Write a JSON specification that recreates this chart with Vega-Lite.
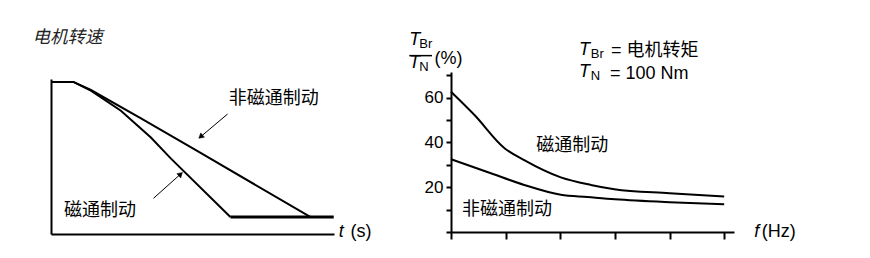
{
  "$schema": "https://vega.github.io/schema/vega-lite/v6.json",
  "padding": {"left": 32, "top": 29, "right": 0, "bottom": 0},
  "bounds": "flush",
  "spacing": 117,
  "config": {
    "view": {"stroke": null},
    "font": "Liberation Sans",
    "axis": {"grid": false, "domainColor": "black", "domainWidth": 2, "tickColor": "black", "tickWidth": 2, "labelColor": "black"}
  },
  "datasets": {
    "speed": [
      {"series": "flux", "t": 0, "v": 98.1},
      {"series": "flux", "t": 0.79, "v": 98.1},
      {"series": "flux", "t": 1.41, "v": 92.5},
      {"series": "flux", "t": 2.47, "v": 79.5},
      {"series": "flux", "t": 3.53, "v": 62.2},
      {"series": "flux", "t": 4.24, "v": 48.6},
      {"series": "flux", "t": 6.34, "v": 11.0},
      {"series": "nonflux", "t": 0, "v": 98.1},
      {"series": "nonflux", "t": 0.79, "v": 98.1},
      {"series": "nonflux", "t": 1.41, "v": 92.9},
      {"series": "nonflux", "t": 3.18, "v": 74.6},
      {"series": "nonflux", "t": 5.18, "v": 53.5},
      {"series": "nonflux", "t": 9.16, "v": 11.0},
      {"series": "floor", "t": 6.34, "v": 11.0},
      {"series": "floor", "t": 9.99, "v": 11.0}
    ],
    "arrows": [
      {"id": "a1", "t": 6.24, "v": 77.4, "t2": 5.26, "v2": 62.3},
      {"id": "a2", "t": 3.62, "v": 23.0, "t2": 4.60, "v2": 39.0}
    ],
    "heads": [
      {"id": "a1", "t": 5.29, "v": 62.8},
      {"id": "a2", "t": 4.58, "v": 38.6}
    ],
    "leftText": [
      {"role": "cnItalic", "label": "电机转速", "t": -0.65, "v": 126.3},
      {"role": "cn", "label": "非磁通制动", "t": 6.28, "v": 87.1},
      {"role": "cn", "label": "磁通制动", "t": 0.46, "v": 14.8},
      {"role": "italic", "label": "t", "t": 10.17, "v": 1.5},
      {"role": "latin", "label": "(s)", "t": 10.58, "v": 1.5}
    ],
    "torque": [
      {"series": "flux", "f": 0, "v": 62.6},
      {"series": "flux", "f": 0.43, "v": 52.2},
      {"series": "flux", "f": 0.98, "v": 37.4},
      {"series": "flux", "f": 1.34, "v": 32.1},
      {"series": "flux", "f": 2.01, "v": 24.4},
      {"series": "flux", "f": 2.56, "v": 21.0},
      {"series": "flux", "f": 2.99, "v": 19.1},
      {"series": "flux", "f": 4.0, "v": 17.3},
      {"series": "flux", "f": 5.0, "v": 15.8},
      {"series": "nonflux", "f": 0, "v": 32.5},
      {"series": "nonflux", "f": 0.73, "v": 26.2},
      {"series": "nonflux", "f": 1.34, "v": 21.0},
      {"series": "nonflux", "f": 2.01, "v": 16.6},
      {"series": "nonflux", "f": 2.5, "v": 15.6},
      {"series": "nonflux", "f": 3.0, "v": 14.6},
      {"series": "nonflux", "f": 4.0, "v": 13.3},
      {"series": "nonflux", "f": 5.0, "v": 12.4}
    ],
    "rightText": [
      {"role": "cn", "label": "磁通制动", "f": 1.56, "v": 38.2},
      {"role": "cn", "label": "非磁通制动", "f": 0.20, "v": 9.8},
      {"role": "cn", "label": "= 电机转矩", "f": 2.93, "v": 80.8},
      {"role": "latin", "label": "= 100 Nm", "f": 2.91, "v": 70.5},
      {"role": "latin", "label": "(%)", "f": -0.30, "v": 77.2},
      {"role": "latin", "label": "(Hz)", "f": 5.69, "v": 0.13},
      {"role": "italic", "label": "T", "f": -0.764, "v": 85.7},
      {"role": "italic", "label": "T", "f": -0.769, "v": 75.4},
      {"role": "italic", "label": "T", "f": 2.344, "v": 81.3},
      {"role": "italic", "label": "T", "f": 2.344, "v": 71.4},
      {"role": "italic", "label": "f", "f": 5.55, "v": 0.13},
      {"role": "sub", "label": "Br", "f": -0.58, "v": 83.9},
      {"role": "sub", "label": "N", "f": -0.58, "v": 73.7},
      {"role": "sub", "label": "Br", "f": 2.56, "v": 79.5},
      {"role": "sub", "label": "N", "f": 2.56, "v": 69.6}
    ],
    "bar": [
      {"f": -0.764, "f2": -0.348, "v": 78.7}
    ]
  },
  "hconcat": [
    {
      "width": 283,
      "height": 162,
      "encoding": {
        "x": {"field": "t", "type": "quantitative", "scale": {"domain": [0, 10], "nice": false}, "axis": {"ticks": false, "labels": false, "title": null}},
        "y": {"field": "v", "type": "quantitative", "scale": {"domain": [0, 100], "range": [162, 7], "nice": false}, "axis": {"ticks": false, "labels": false, "title": null}}
      },
      "layer": [
        {
          "data": {"name": "speed"},
          "transform": [{"filter": "datum.series != 'floor'"}],
          "mark": {"type": "line", "color": "black", "strokeWidth": 2},
          "encoding": {"detail": {"field": "series"}}
        },
        {
          "data": {"name": "speed"},
          "transform": [{"filter": "datum.series == 'floor'"}],
          "mark": {"type": "line", "color": "black", "strokeWidth": 3},
          "encoding": {}
        },
        {
          "data": {"name": "arrows"},
          "mark": {"type": "rule", "color": "black", "strokeWidth": 1},
          "encoding": {"x2": {"field": "t2"}, "y2": {"field": "v2"}}
        },
        {
          "data": {"name": "heads"},
          "transform": [{"filter": "datum.id == 'a1'"}],
          "mark": {"type": "point", "shape": "triangle-up", "filled": true, "fill": "black", "stroke": "black", "strokeWidth": 0.5, "size": 32, "angle": 230, "opacity": 1},
          "encoding": {}
        },
        {
          "data": {"name": "heads"},
          "transform": [{"filter": "datum.id == 'a2'"}],
          "mark": {"type": "point", "shape": "triangle-up", "filled": true, "fill": "black", "stroke": "black", "strokeWidth": 0.5, "size": 32, "angle": 48, "opacity": 1},
          "encoding": {}
        },
        {
          "data": {"name": "leftText"},
          "transform": [{"filter": "datum.role == 'cnItalic'"}],
          "mark": {"type": "text", "align": "left", "baseline": "middle", "font": "Liberation Sans, Noto Sans CJK SC", "fontStyle": "italic", "fontSize": 17.5, "color": "#222"},
          "encoding": {"text": {"field": "label"}}
        },
        {
          "data": {"name": "leftText"},
          "transform": [{"filter": "datum.role == 'cn'"}],
          "mark": {"type": "text", "align": "left", "baseline": "middle", "font": "Liberation Sans, Noto Sans CJK SC", "fontSize": 18, "color": "black"},
          "encoding": {"text": {"field": "label"}}
        },
        {
          "data": {"name": "leftText"},
          "transform": [{"filter": "datum.role == 'italic'"}],
          "mark": {"type": "text", "align": "left", "baseline": "middle", "font": "Liberation Sans", "fontStyle": "italic", "fontSize": 18, "color": "black"},
          "encoding": {"text": {"field": "label"}}
        },
        {
          "data": {"name": "leftText"},
          "transform": [{"filter": "datum.role == 'latin'"}],
          "mark": {"type": "text", "align": "left", "baseline": "middle", "font": "Liberation Sans", "fontSize": 18, "color": "black"},
          "encoding": {"text": {"field": "label"}}
        }
      ]
    },
    {
      "width": 283,
      "height": 160,
      "encoding": {
        "x": {"field": "f", "type": "quantitative", "scale": {"domain": [0, 5.18], "nice": false}, "axis": {"values": [0, 1, 2, 3, 4, 5], "labels": false, "tickSize": 7, "title": null}},
        "y": {"field": "v", "type": "quantitative", "scale": {"domain": [0, 71.4], "nice": false}, "axis": {"values": [0, 10, 20, 30, 40, 50, 60, 70], "labelExpr": "datum.value == 20 || datum.value == 40 || datum.value == 60 ? datum.label : ''", "tickSize": 5, "labelFontSize": 17, "labelPadding": 3, "labelFont": "Liberation Sans", "title": null}}
      },
      "layer": [
        {
          "data": {"name": "torque"},
          "mark": {"type": "line", "color": "black", "strokeWidth": 2, "interpolate": "monotone"},
          "encoding": {"detail": {"field": "series"}}
        },
        {
          "data": {"name": "bar"},
          "mark": {"type": "rule", "color": "black", "strokeWidth": 1.5},
          "encoding": {"x2": {"field": "f2"}}
        },
        {
          "data": {"name": "rightText"},
          "transform": [{"filter": "datum.role == 'cn'"}],
          "mark": {"type": "text", "align": "left", "baseline": "middle", "font": "Liberation Sans, Noto Sans CJK SC", "fontSize": 18, "color": "black"},
          "encoding": {"text": {"field": "label"}}
        },
        {
          "data": {"name": "rightText"},
          "transform": [{"filter": "datum.role == 'latin'"}],
          "mark": {"type": "text", "align": "left", "baseline": "middle", "font": "Liberation Sans", "fontSize": 18, "color": "black"},
          "encoding": {"text": {"field": "label"}}
        },
        {
          "data": {"name": "rightText"},
          "transform": [{"filter": "datum.role == 'italic'"}],
          "mark": {"type": "text", "align": "left", "baseline": "middle", "font": "Liberation Sans", "fontStyle": "italic", "fontSize": 18, "color": "black"},
          "encoding": {"text": {"field": "label"}}
        },
        {
          "data": {"name": "rightText"},
          "transform": [{"filter": "datum.role == 'sub'"}],
          "mark": {"type": "text", "align": "left", "baseline": "middle", "font": "Liberation Sans", "fontSize": 13, "color": "black"},
          "encoding": {"text": {"field": "label"}}
        }
      ]
    }
  ]
}
